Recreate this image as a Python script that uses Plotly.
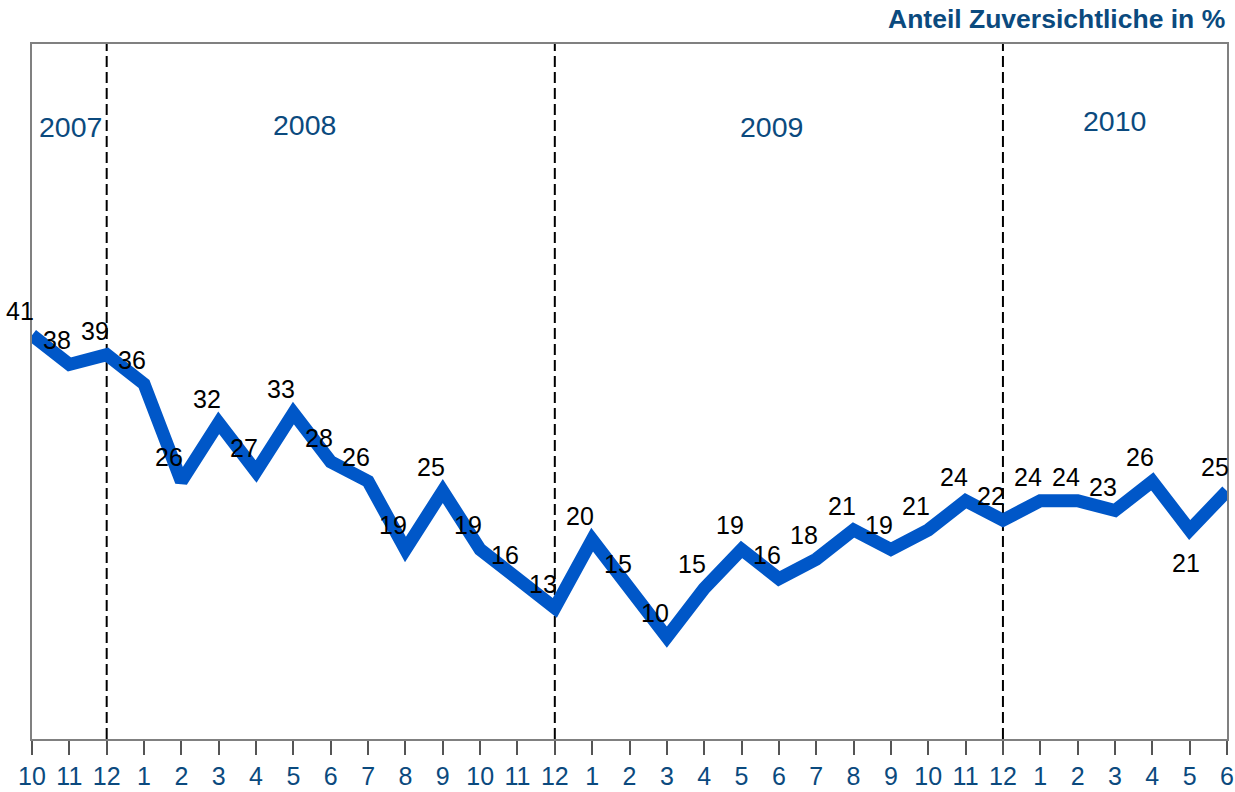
import plotly.graph_objects as go

month_labels = ["10", "11", "12",
                "1", "2", "3", "4", "5", "6", "7", "8", "9", "10", "11", "12",
                "1", "2", "3", "4", "5", "6", "7", "8", "9", "10", "11", "12",
                "1", "2", "3", "4", "5", "6"]
values = [41, 38, 39, 36, 26, 32, 27, 33, 28, 26, 19, 25, 19, 16, 13,
          20, 15, 10, 15, 19, 16, 18, 21, 19, 21, 24, 22,
          24, 24, 23, 26, 21, 25]
year_labels = ["2007", "2008", "2009", "2010"]
year_label_x = [1.02, 7.31, 19.8, 29.0]
year_label_y = [0.88, 0.883, 0.88, 0.889]
year_boundaries = [2, 14, 26]
below_label_idx = [31]
title_text = "Anteil Zuversichtliche in %"

BLUE_TXT = "#0B4A7E"
LINE_BLUE = "#0057C8"
FONT = "Liberation Sans, Arial, sans-serif"

x = list(range(len(values)))

fig = go.Figure()
fig.add_trace(go.Scatter(
    x=x, y=values, mode="lines",
    line=dict(color=LINE_BLUE, width=13, shape="linear"),
    hoverinfo="skip", showlegend=False,
))

annotations = []
for i, v in enumerate(values):
    if i in below_label_idx:
        xs, ys = -4, -33
    else:
        xs, ys = -12, 24
    annotations.append(dict(
        x=i, y=v, xref="x", yref="y", text=str(v), showarrow=False,
        xanchor="center", yanchor="middle", xshift=xs, yshift=ys,
        font=dict(family=FONT, size=25, color="#000000"),
    ))

for lbl, lx, ly in zip(year_labels, year_label_x, year_label_y):
    annotations.append(dict(
        x=lx, y=ly, xref="x", yref="paper", text=lbl, showarrow=False,
        xanchor="center", yanchor="middle",
        font=dict(family=FONT, size=28.5, color=BLUE_TXT),
    ))

annotations.append(dict(
    x=1.0, y=1.036, xref="paper", yref="paper", text="<b>" + title_text + "</b>",
    showarrow=False, xanchor="right", yanchor="middle",
    font=dict(family=FONT, size=26.5, color=BLUE_TXT),
))

shapes = []
for b in year_boundaries:
    shapes.append(dict(
        type="line", x0=b, x1=b, xref="x", y0=0, y1=1, yref="paper",
        line=dict(color="#000000", width=2, dash="11px,5px"), layer="below",
    ))

fig.update_layout(
    width=1235, height=792,
    margin=dict(l=32, r=8, t=44, b=53),
    paper_bgcolor="white", plot_bgcolor="white",
    annotations=annotations, shapes=shapes,
    xaxis=dict(
        range=[0, len(values) - 1],
        tickmode="array", tickvals=x, ticktext=month_labels,
        ticks="outside", ticklen=14, tickwidth=1.5, tickcolor="#555555",
        showline=True, linecolor="#808080", linewidth=1.5, mirror=True,
        showgrid=False, zeroline=False, automargin=False,
        tickfont=dict(family=FONT, size=25, color=BLUE_TXT),
    ),
    yaxis=dict(
        range=[-0.46, 70.9],
        showticklabels=False, ticks="",
        showline=True, linecolor="#808080", linewidth=1.5, mirror=True,
        showgrid=False, zeroline=False, automargin=False,
    ),
)

fig.write_html(
    "out.html",
    config={"displayModeBar": False},
    post_script="document.body.style.margin='0';document.body.style.padding='0';document.body.style.overflow='hidden';",
)
